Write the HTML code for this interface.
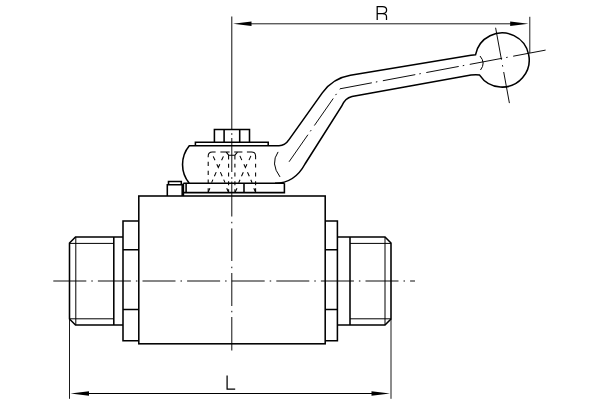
<!DOCTYPE html>
<html><head><meta charset="utf-8"><title>Ball valve</title>
<style>
html,body{margin:0;padding:0;background:#fff;width:600px;height:400px;overflow:hidden;font-family:"Liberation Sans",sans-serif;}
svg{display:block;position:absolute;left:0;top:0;}
</style></head>
<body>
<svg width="600" height="400" viewBox="0 0 600 400">
<g fill="none" stroke="#000" stroke-linejoin="miter" stroke-linecap="butt">
  <!-- thick outlines -->
  <g stroke-width="1.55">
    <!-- body -->
    <rect x="138.8" y="196" width="186.4" height="147.8"/>
    <!-- left hex -->
    <path d="M138.8,221 H123 V340.8 H138.8 M123,249.8 H138.8 M123,309.5 H138.8"/>
    <!-- right hex -->
    <path d="M325.2,221 H337.4 V340.8 H325.2 M325.2,249.8 H337.4 M325.2,309.5 H337.4"/>
    <!-- left pipe -->
    <path d="M123,237 H75.5 L69.5,243 V319 L75.5,325 H123 M113.8,237 V325"/>
    <!-- right pipe -->
    <path d="M337.4,237 H385 L391,243 V319 L385,325 H337.4 M350,237 V325"/>
    <!-- nub -->
    <path d="M167.3,196 V184.8 H182.2 V196 M168.5,184.8 V181.4 H181.3 V184.8"/>
    <!-- lower plate -->
    <path d="M183.4,196 V183.3 M186.1,192.6 V183.3 M183.4,192.6 H284.4 V183.3"/>
    <!-- nut -->
    <path d="M214.4,142.3 V129.4 H249.5 V142.3 M224.1,129.4 V142.3 M239.7,129.4 V142.3"/>
    <!-- upper plate -->
    <path d="M195.4,145.7 V142.3 H268.2 V145.7"/>
    <!-- hub + arm upper line + ball -->
    <path d="M183.4,183.3 H275 C289,183.3 298,177 305,164 L341.5,106.5 Q345,98 352,96.5 L471,75.1 Q476.5,74.3 479.6,75.1 A27.1,27.1 0 1 0 475.5,54.8 Q474,55 471,55.3 L350.4,75.3 C339.2,77.2 328.9,83.7 322.3,92.9 L289.2,139.4 Q285,145.7 279,145.7 H189.3 A29.5,29.5 0 0 0 189.3,183.3"/>
    <path d="M244,183.3 V192.5 M275,183.3 H284.4"/>
  </g>
  <!-- thin lines -->
  <g stroke-width="1">
    <path d="M75.8,237 V325 M69.5,243.4 H113.8 M69.5,318.8 H113.8"/>
    <path d="M385,237 V325 M350,243.4 H391 M350,318.8 H391"/>
    <!-- extension lines -->
    <path d="M69.5,319 V398.8 M391,319 V398.8 M529.8,16.8 V53" stroke-width="0.9"/>
    <!-- dimension lines -->
    <path d="M85,393.5 H375"/>
    <path d="M248,23.8 H512" stroke-width="0.9"/>
    <!-- arcs -->
    <path d="M480,56 Q486,63 480.5,70"/>
    <path d="M278.1,151.9 Q270,163.5 280,176.9"/>
  </g>
  <!-- centerlines -->
  <g stroke-width="0.95">
    <path d="M53.3,281 H415" stroke-dasharray="33 5 1.5 5.1"/>
    <path d="M231.8,16.5 V129.5 M231.8,133.2 V134.8 M231.8,138 V172 M231.8,177.2 V178.8 M231.8,181.5 V216.5 M231.8,221.8 V223.3 M231.8,228.4 V261 M231.8,266.7 V268.2 M231.8,273 V306 M231.8,310.8 V312.3 M231.8,317 V350.5"/>
    <path d="M545.6,50.1 L340,88.8 L288.2,163" stroke-dasharray="33 5.6 1.5 4.1"/>
    <path d="M495.6,27.75 L509.4,103.1" stroke-dasharray="32.5 5.5 1.5 5.5"/>
  </g>
  <!-- hidden lines -->
  <g stroke-width="1.05">
    <path d="M208.2,157.3 V156 Q208.2,151.9 212.3,151.9 H215.6 M220.4,151.9 H229.6 M226.2,152.2 L228.7,155.2 H234.9 L237.5,152.2 M228.6,155.2 V159.6"/>
    <path d="M208.2,161.8 V166 M208.2,170.8 V175.1 M208.2,179.6 V183.6 M208.2,188.2 V192.5"/>
    <path d="M228.6,163.7 V167.8 M228.6,172.5 V176.6 M228.6,181.3 V185.2 M228.6,189.2 V192.5"/>
    <path d="M234.9,159.6 V155.2 M234.2,152 H242.4 M246.9,152 H251.5 Q255.6,152 255.6,156 V159.2"/>
    <path d="M234.9,163.7 V167.6 M234.9,172.4 V176.4 M234.9,181.2 V185.2 M234.9,189.2 V192.5"/>
    <path d="M255.6,163.7 V167.6 M255.6,172.4 V176.4 M255.6,181.2 V185.2 M255.6,188.2 V192.5"/>
    <!-- left X, vertex 218.3,167.5 -->
    <path d="M213.2,156.4 L215.0,160.3 M216.8,164.2 L218.3,167.5 L219.8,164.2 M223.4,156.4 L221.6,160.3"/>
    <path d="M216.2,172.1 L214.4,176.2 M220.4,172.1 L222.2,176.2 M212.9,179.6 L211.6,182.6 M223.7,179.6 L225,182.6 M209.9,188.2 L208.2,192 M226.7,188.2 L228.4,192"/>
    <!-- right X, vertex 245.4,167.6 -->
    <path d="M239.9,155.9 L241.8,160.1 M243.9,164.3 L245.4,167.6 L246.9,164.3 M250.9,155.9 L249,160.1"/>
    <path d="M243.3,172.2 L241.5,176.3 M247.5,172.2 L249.3,176.3 M240,179.7 L238.7,182.7 M250.8,179.7 L252.1,182.7 M237.0,188.3 L235.2,192 M253.8,188.3 L255.5,192"/>
  </g>
  <!-- arrows -->
  <g fill="#000" stroke="none">
    <path d="M70.5,393.5 L89,391.2 V395.8 Z"/>
    <path d="M390,393.5 L371.5,391.2 V395.8 Z"/>
    <path d="M233,23.8 L251.5,21.5 V26.1 Z"/>
    <path d="M528.5,23.8 L510.2,21.5 V26.1 Z"/>
  </g>
  <!-- letters -->
  <g stroke-width="1.25" stroke-linecap="butt">
    <path d="M227.1,375.5 V389.2 H235.2"/>
    <path d="M377.2,19.9 V6.6 H382.5 Q386.6,6.6 386.6,10 Q386.6,13.5 382.5,13.5 H377.2 M382.5,13.5 Q386.4,13.5 386.5,16.5 V19.9"/>
  </g>
</g>
</svg>
</body></html>
